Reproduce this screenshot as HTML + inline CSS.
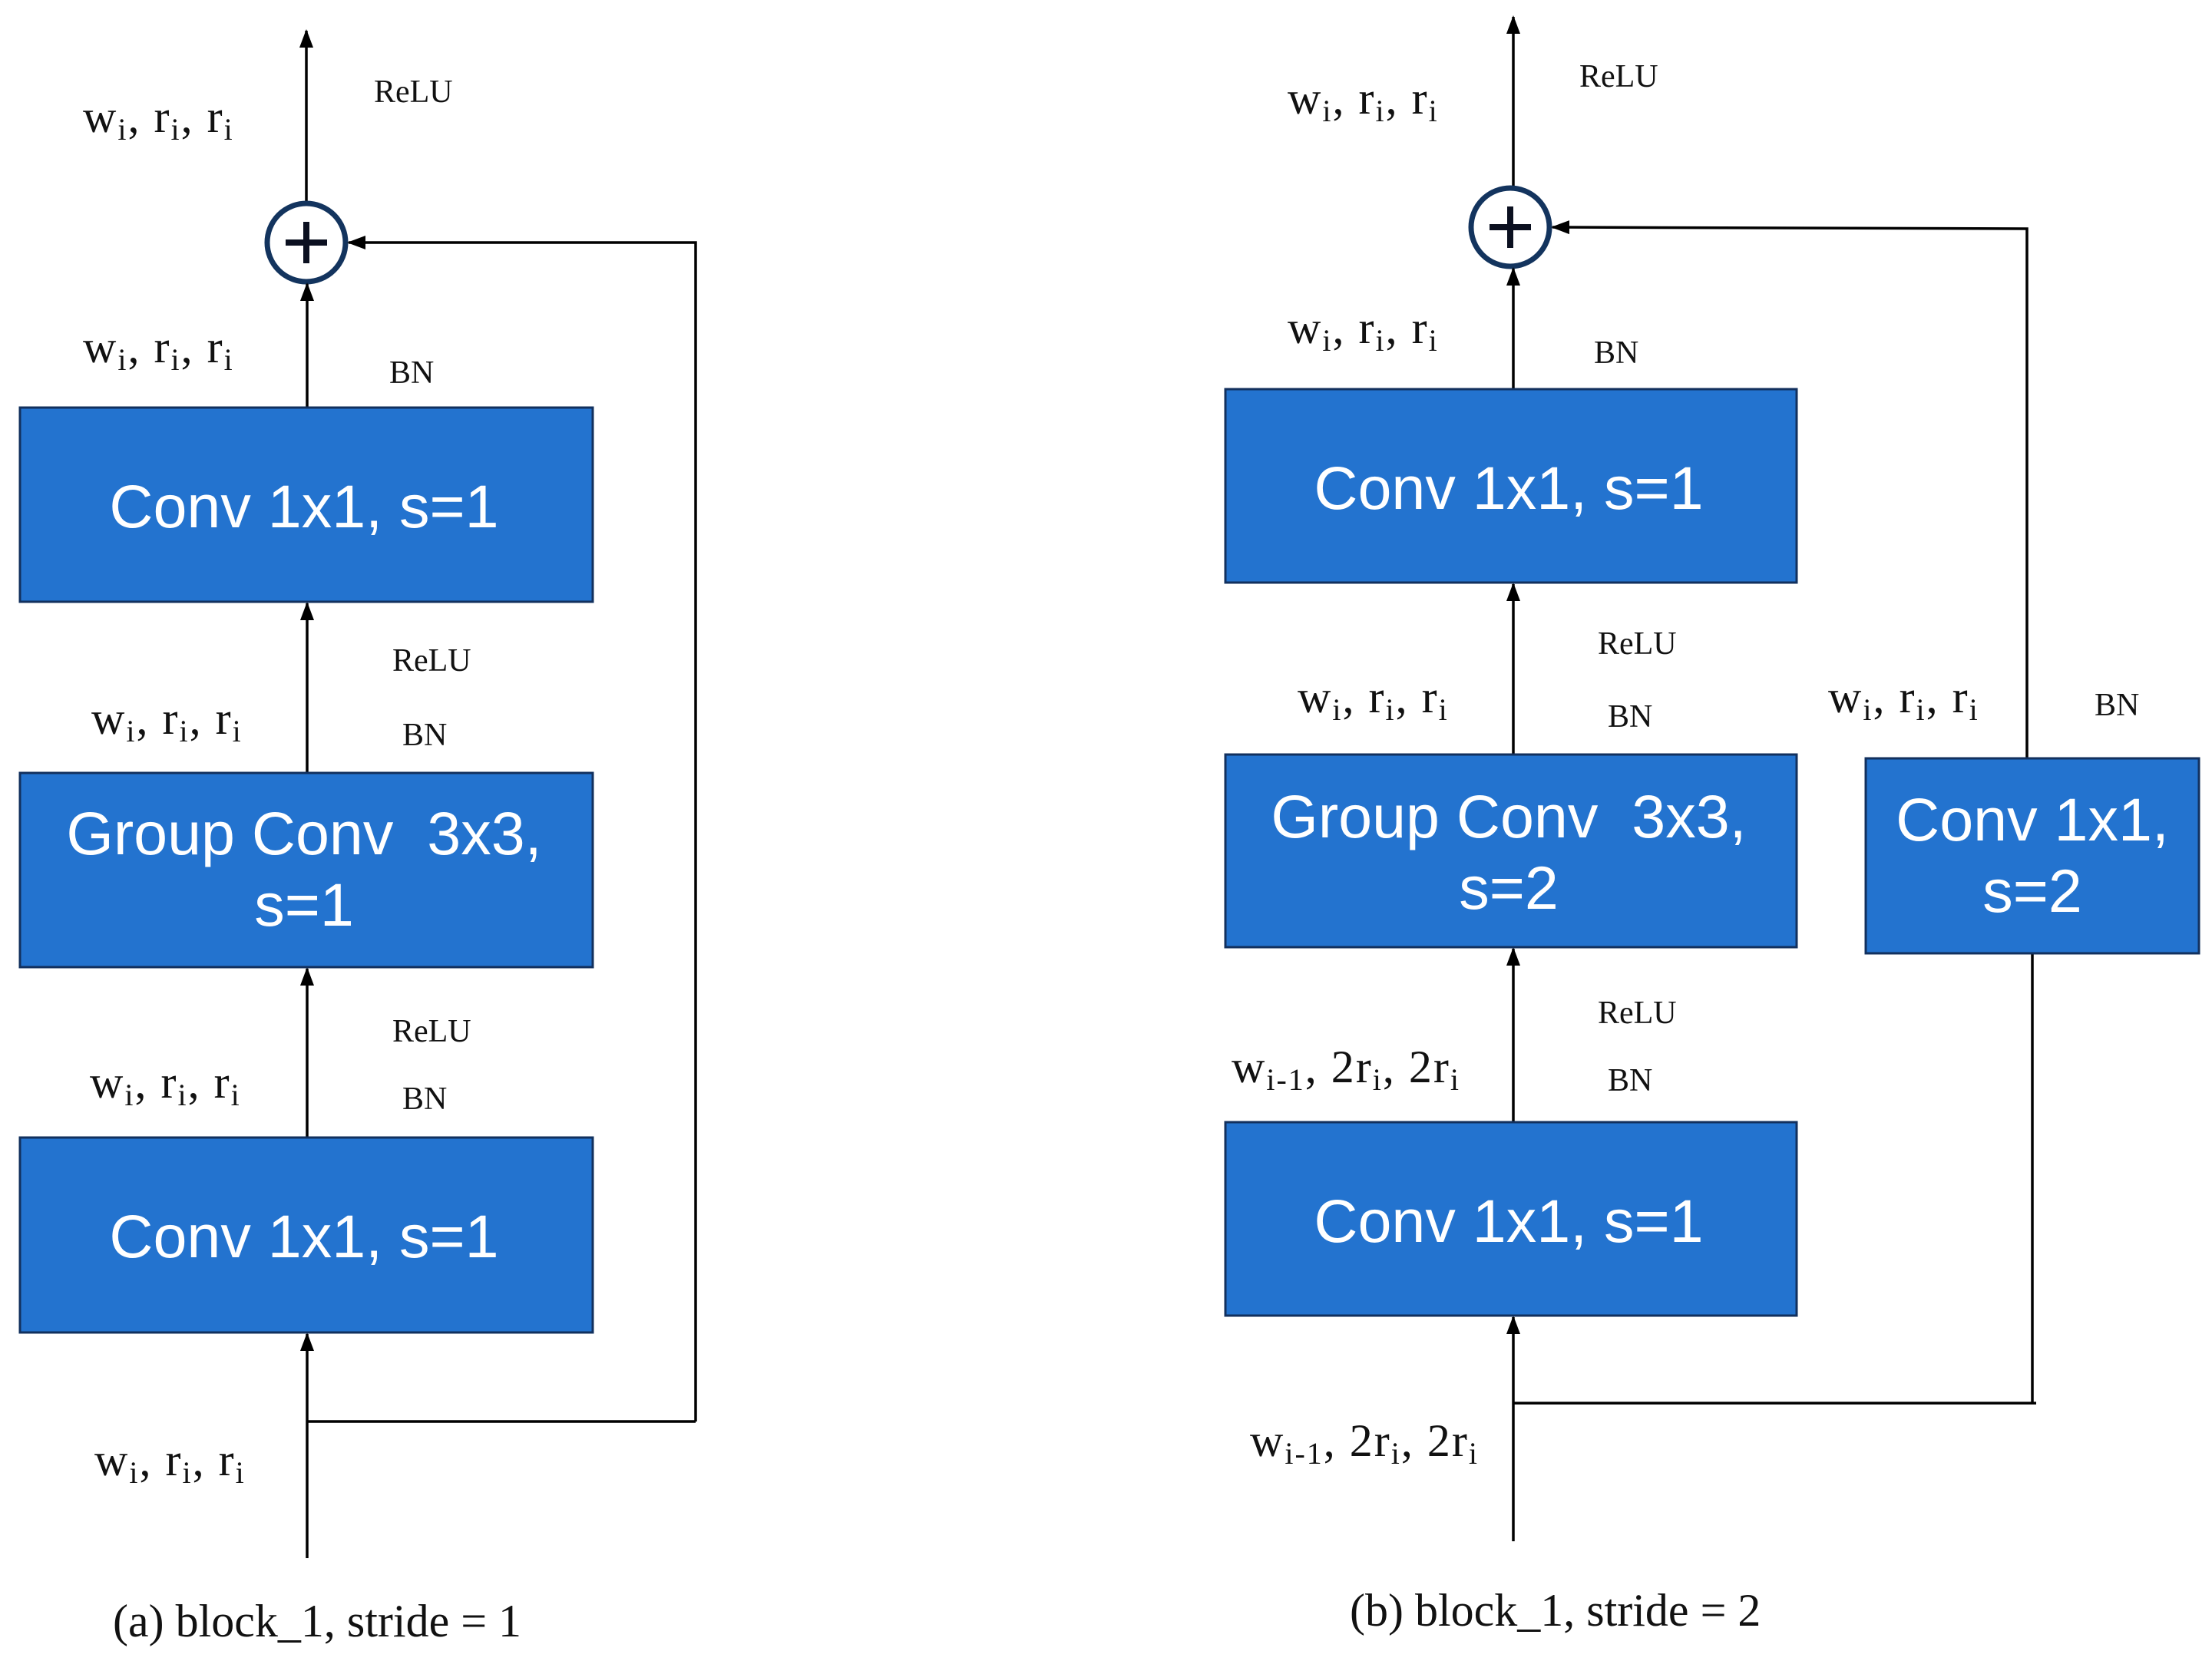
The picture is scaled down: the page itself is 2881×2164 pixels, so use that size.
<!DOCTYPE html>
<html><head><meta charset="utf-8"><style>
html,body{margin:0;padding:0;background:#fff;}
svg{display:block;}
.lab{font-family:"Liberation Serif",serif;font-size:60px;fill:#111;letter-spacing:2px;}
.sm{font-family:"Liberation Serif",serif;font-size:42px;fill:#111;}
.cap{font-family:"Liberation Serif",serif;font-size:60px;fill:#111;}
.bx{fill:#2373cf;stroke:#12305e;stroke-width:3;}
.bt{font-family:"Liberation Sans",sans-serif;font-size:79px;fill:#fff;text-anchor:middle;}
.ln{stroke:#000;stroke-width:3.5;fill:none;}
</style></head><body>
<svg width="2881" height="2164" viewBox="0 0 2881 2164" xmlns="http://www.w3.org/2000/svg">
<defs>
<marker id="a2" markerWidth="24" markerHeight="24" refX="22" refY="12" orient="auto" markerUnits="userSpaceOnUse" viewBox="0 0 24 24"><path d="M0,3 L24,12 L0,21 z" fill="#000"/></marker></defs>

<!-- LEFT -->
<line class="ln" x1="399" y1="263" x2="399" y2="40" marker-end="url(#a2)"/>
<circle cx="399" cy="316" r="51" fill="#fff" stroke="#13345e" stroke-width="7"/>
<path d="M372 316 H426 M399 289 V343" stroke="#0b1020" stroke-width="8"/>
<line class="ln" x1="400" y1="531" x2="400" y2="370" marker-end="url(#a2)"/>
<polyline class="ln" points="906,1852 906,316 454,316" marker-end="url(#a2)"/>
<line class="ln" x1="400" y1="1007" x2="400" y2="786" marker-end="url(#a2)"/>
<line class="ln" x1="400" y1="1482" x2="400" y2="1262" marker-end="url(#a2)"/>
<line class="ln" x1="400" y1="2030" x2="400" y2="1738" marker-end="url(#a2)"/>
<line class="ln" x1="400" y1="1852" x2="906" y2="1852"/>

<rect class="bx" x="26" y="531" width="746" height="253"/>
<text class="bt" x="396" y="687">Conv 1x1, s=1</text>
<rect class="bx" x="26" y="1007" width="746" height="253"/>
<text class="bt" x="396" y="1113">Group Conv&#160;&#160;3x3,</text>
<text class="bt" x="396" y="1206">s=1</text>
<rect class="bx" x="26" y="1482" width="746" height="254"/>
<text class="bt" x="396" y="1638">Conv 1x1, s=1</text>

<text class="lab" x="108" y="172">w<tspan font-size="40" dy="10">i</tspan><tspan dy="-10">, r</tspan><tspan font-size="40" dy="10">i</tspan><tspan dy="-10">, r</tspan><tspan font-size="40" dy="10">i</tspan></text>
<text class="lab" x="108" y="472">w<tspan font-size="40" dy="10">i</tspan><tspan dy="-10">, r</tspan><tspan font-size="40" dy="10">i</tspan><tspan dy="-10">, r</tspan><tspan font-size="40" dy="10">i</tspan></text>
<text class="lab" x="119" y="956">w<tspan font-size="40" dy="10">i</tspan><tspan dy="-10">, r</tspan><tspan font-size="40" dy="10">i</tspan><tspan dy="-10">, r</tspan><tspan font-size="40" dy="10">i</tspan></text>
<text class="lab" x="117" y="1430">w<tspan font-size="40" dy="10">i</tspan><tspan dy="-10">, r</tspan><tspan font-size="40" dy="10">i</tspan><tspan dy="-10">, r</tspan><tspan font-size="40" dy="10">i</tspan></text>
<text class="lab" x="123" y="1922">w<tspan font-size="40" dy="10">i</tspan><tspan dy="-10">, r</tspan><tspan font-size="40" dy="10">i</tspan><tspan dy="-10">, r</tspan><tspan font-size="40" dy="10">i</tspan></text>
<text class="sm" x="487" y="133">ReLU</text>
<text class="sm" x="507" y="499">BN</text>
<text class="sm" x="511" y="874">ReLU</text>
<text class="sm" x="524" y="971">BN</text>
<text class="sm" x="511" y="1357">ReLU</text>
<text class="sm" x="524" y="1445">BN</text>
<text class="cap" x="147" y="2132">(a) block_1, stride = 1</text>

<!-- RIGHT -->
<line class="ln" x1="1971" y1="243" x2="1971" y2="22" marker-end="url(#a2)"/>
<circle cx="1967" cy="296" r="51" fill="#fff" stroke="#13345e" stroke-width="7"/>
<path d="M1940 296 H1994 M1967 269 V323" stroke="#0b1020" stroke-width="8"/>
<line class="ln" x1="1971" y1="507" x2="1971" y2="350" marker-end="url(#a2)"/>
<polyline class="ln" points="2640,988 2640,298 2022,296" marker-end="url(#a2)"/>
<line class="ln" x1="1971" y1="983" x2="1971" y2="761" marker-end="url(#a2)"/>
<line class="ln" x1="1971" y1="1462" x2="1971" y2="1236" marker-end="url(#a2)"/>
<line class="ln" x1="1971" y1="2008" x2="1971" y2="1716" marker-end="url(#a2)"/>
<polyline class="ln" points="1971,1828 2652,1828"/>
<line class="ln" x1="2647" y1="1242" x2="2647" y2="1828"/>

<rect class="bx" x="1596" y="507" width="744" height="252"/>
<text class="bt" x="1965" y="663">Conv 1x1, s=1</text>
<rect class="bx" x="1596" y="983" width="744" height="251"/>
<text class="bt" x="1965" y="1091">Group Conv&#160;&#160;3x3,</text>
<text class="bt" x="1965" y="1184">s=2</text>
<rect class="bx" x="2430" y="988" width="434" height="254"/>
<text class="bt" x="2647" y="1095">Conv 1x1,</text>
<text class="bt" x="2647" y="1188">s=2</text>
<rect class="bx" x="1596" y="1462" width="744" height="252"/>
<text class="bt" x="1965" y="1618">Conv 1x1, s=1</text>

<text class="lab" x="1677" y="148">w<tspan font-size="40" dy="10">i</tspan><tspan dy="-10">, r</tspan><tspan font-size="40" dy="10">i</tspan><tspan dy="-10">, r</tspan><tspan font-size="40" dy="10">i</tspan></text>
<text class="lab" x="1677" y="447">w<tspan font-size="40" dy="10">i</tspan><tspan dy="-10">, r</tspan><tspan font-size="40" dy="10">i</tspan><tspan dy="-10">, r</tspan><tspan font-size="40" dy="10">i</tspan></text>
<text class="lab" x="1690" y="928">w<tspan font-size="40" dy="10">i</tspan><tspan dy="-10">, r</tspan><tspan font-size="40" dy="10">i</tspan><tspan dy="-10">, r</tspan><tspan font-size="40" dy="10">i</tspan></text>
<text class="lab" x="2381" y="928">w<tspan font-size="40" dy="10">i</tspan><tspan dy="-10">, r</tspan><tspan font-size="40" dy="10">i</tspan><tspan dy="-10">, r</tspan><tspan font-size="40" dy="10">i</tspan></text>
<text class="lab" x="1604" y="1410">w<tspan font-size="40" dy="10">i-1</tspan><tspan dy="-10">, 2r</tspan><tspan font-size="40" dy="10">i</tspan><tspan dy="-10">, 2r</tspan><tspan font-size="40" dy="10">i</tspan></text>
<text class="lab" x="1628" y="1897">w<tspan font-size="40" dy="10">i-1</tspan><tspan dy="-10">, 2r</tspan><tspan font-size="40" dy="10">i</tspan><tspan dy="-10">, 2r</tspan><tspan font-size="40" dy="10">i</tspan></text>
<text class="sm" x="2057" y="113">ReLU</text>
<text class="sm" x="2076" y="473">BN</text>
<text class="sm" x="2081" y="852">ReLU</text>
<text class="sm" x="2094" y="947">BN</text>
<text class="sm" x="2728" y="932">BN</text>
<text class="sm" x="2081" y="1333">ReLU</text>
<text class="sm" x="2094" y="1421">BN</text>
<text class="cap" x="1758" y="2118">(b) block_1, stride = 2</text>
</svg>
</body></html>
